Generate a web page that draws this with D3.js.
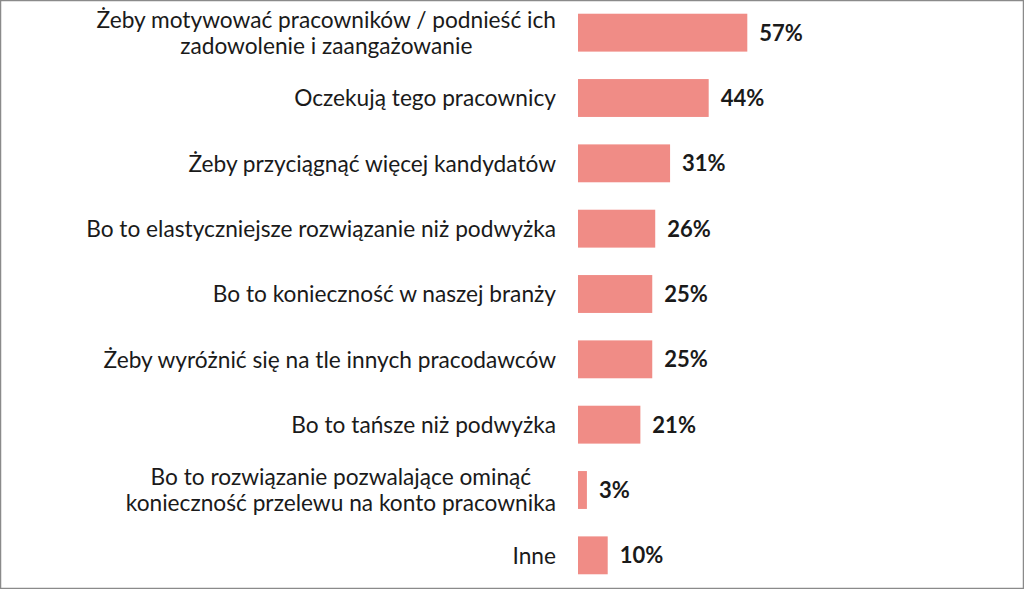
<!DOCTYPE html>
<html>
<head>
<meta charset="utf-8">
<script src="https://cdn.jsdelivr.net/npm/d3@7.9.0/dist/d3.min.js"></script>
<style>
  html, body { margin: 0; padding: 0; background: #fff; }
  svg { display: block; }
  .cat { font-family: Lato, "Open Sans", sans-serif; font-size: 22.7px; fill: #1a1a1a; }
  .val { font-family: Lato, "Open Sans", sans-serif; font-size: 22px; font-weight: bold; fill: #1a1a1a; }
</style>
</head>
<body>
<svg id="chart" width="1024" height="589"></svg>
<script>
// reasons (each entry is the lines of one label)
const categories = [
  ['Żeby motywować pracowników / podnieść ich', 'zadowolenie i zaangażowanie'],
  ['Oczekują tego pracownicy'],
  ['Żeby przyciągnąć więcej kandydatów'],
  ['Bo to elastyczniejsze rozwiązanie niż podwyżka'],
  ['Bo to konieczność w naszej branży'],
  ['Żeby wyróżnić się na tle innych pracodawców'],
  ['Bo to tańsze niż podwyżka'],
  ['Bo to rozwiązanie pozwalające ominąć', 'konieczność przelewu na konto pracownika'],
  ['Inne']
];
const values = [57, 44, 31, 26, 25, 25, 21, 3, 10];

const W = 1024, H = 589;
const barLeft = 578;
const labelRight = 556;
const lineH = 26.5;

const svg = d3.select('#chart');

// frame
svg.append('rect')
  .attr('x', 0.5).attr('y', 0.5)
  .attr('width', W - 1).attr('height', H - 1)
  .attr('fill', '#fff')
  .attr('stroke', '#8a8a8a')
  .attr('stroke-width', 1.5);

const y = d3.scaleBand()
  .domain(d3.range(categories.length))
  .range([0, 588])
  .paddingInner(0.42)
  .paddingOuter(0.21);

const x = d3.scaleLinear()
  .domain([0, 57])
  .range([barLeft, 747.3]);

const rows = svg.selectAll('g.row')
  .data(values)
  .join('g')
  .attr('class', 'row');

rows.append('rect')
  .attr('x', x(0))
  .attr('y', (d, i) => y(i))
  .attr('width', d => x(d) - x(0))
  .attr('height', y.bandwidth())
  .attr('fill', '#f08c86');

rows.append('text')
  .attr('class', 'val')
  .attr('x', d => x(d) + 12)
  .attr('y', (d, i) => y(i) + y.bandwidth() / 2)
  .attr('dy', '0.36em')
  .text(d => d + '%');

// category labels: block right-aligned, lines centred with each other
categories.forEach((lines, i) => {
  const cy = y(i) + y.bandwidth() / 2;
  const g = svg.append('g');
  const texts = lines.map((ln, k) => g.append('text')
    .attr('class', 'cat')
    .attr('text-anchor', 'middle')
    .attr('y', cy + (k - (lines.length - 1) / 2) * lineH)
    .attr('dy', '0.36em')
    .text(ln));
  const maxW = d3.max(texts, t => t.node().getComputedTextLength());
  texts.forEach(t => t.attr('x', labelRight - maxW / 2));
});
</script>
</body>
</html>
